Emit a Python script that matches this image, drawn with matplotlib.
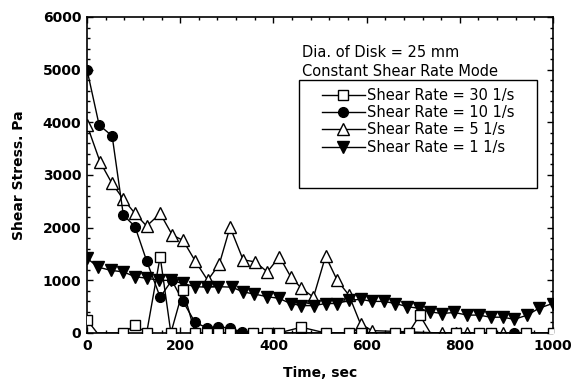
import matplotlib
matplotlib.use("Agg")
import matplotlib.pyplot as plt
from matplotlib.ticker import MultipleLocator
from matplotlib.patches import Rectangle

# ---- data ----
t30 = [0, 22, 78, 103, 128, 157, 180, 206, 232, 257, 282, 307, 357, 386, 411, 460,
       512, 562, 587, 662, 690, 714, 737, 791, 841, 866, 942, 999]
v30 = [250, 0, 0, 150, 0, 1450, 0, 820, 0, 0, 0, 0, 0, 0, 0, 110,
       0, 0, 0, 0, 0, 340, 0, 0, 0, 0, 0, 0]

t10 = [0, 26, 54, 78, 103, 128, 157, 182, 206, 232, 257, 282, 307, 333, 357, 386,
       411, 460, 512, 562, 662, 690, 841, 866, 917, 942, 999]
v10 = [5000, 3950, 3740, 2240, 2020, 1370, 680, 1000, 600, 200, 100, 120, 90, 20, 0, 0,
       0, 0, 0, 0, 0, 0, 0, 0, 0, 0, 0]

t5 = [0, 28, 53, 78, 103, 128, 157, 183, 206, 232, 259, 284, 307, 335, 361, 387,
      413, 437, 460, 486, 512, 537, 562, 587, 612, 762, 791, 816, 892]
v5 = [3950, 3250, 2850, 2540, 2270, 2030, 2270, 1860, 1760, 1370, 1000, 1310, 2010, 1390, 1350, 1160,
      1450, 1070, 850, 680, 1460, 1000, 720, 170, 45, 0, 0, 0, 0]

t1 = [0, 24, 51, 78, 103, 128, 155, 180, 206, 232, 257, 282, 311, 335, 359, 386,
      411, 437, 460, 487, 512, 537, 562, 587, 612, 637, 662, 687, 712, 737,
      762, 788, 816, 841, 866, 892, 917, 945, 970, 999]
v1 = [1420, 1250, 1190, 1160, 1070, 1040, 1000, 1000, 940, 880, 870, 880, 870, 780, 740, 690,
      660, 560, 520, 520, 560, 560, 620, 640, 600, 600, 560, 500, 470, 400,
      370, 390, 340, 340, 300, 300, 260, 340, 470, 560]

labels = ["Shear Rate = 30 1/s", "Shear Rate = 10 1/s",
          "Shear Rate = 5 1/s", "Shear Rate = 1 1/s"]
note1 = "Dia. of Disk = 25 mm"
note2 = "Constant Shear Rate Mode"

plt.rcParams['font.family'] = ['DejaVu Sans']

fig = plt.figure(figsize=(5.72, 3.85), dpi=100)
ax = fig.add_axes([87/572, 52/385, 466/572, 316/385])

lw = 1.0
ms = 7
common = dict(color='black', lw=lw, mec='black', mew=1.0)

hide30 = [i for i in range(len(t30)) if t30[i] not in (22, 737)]

l5, = ax.plot(t5, v5, marker='^', ms=ms + 1, mfc='white', zorder=2, **common)
l1, = ax.plot(t1, v1, marker='v', ms=ms + 1, mfc='black', zorder=3, **common)
l10, = ax.plot(t10, v10, marker='o', ms=ms, mfc='black', zorder=4, **common)
l30, = ax.plot(t30, v30, marker='s', ms=ms, mfc='white', zorder=5,
               markevery=hide30, **common)

ax.set_xlim(0, 1000)
ax.set_ylim(0, 6000)
ax.xaxis.set_major_locator(MultipleLocator(200))
ax.xaxis.set_minor_locator(MultipleLocator(40))
ax.yaxis.set_major_locator(MultipleLocator(1000))
ax.yaxis.set_minor_locator(MultipleLocator(200))
ax.tick_params(which='both', direction='in', top=True, right=True, width=1.0)
ax.tick_params(which='major', length=4, pad=4, labelsize=10)
ax.tick_params(which='minor', length=2)
for lab in ax.get_xticklabels() + ax.get_yticklabels():
    lab.set_fontweight('bold')
for s in ax.spines.values():
    s.set_linewidth(1.2)

ax.set_xlabel("Time, sec", fontsize=10, fontweight='bold', labelpad=10)
ax.set_ylabel("Shear Stress. Pa", fontsize=10, fontweight='bold', labelpad=12)

ax.text(0.461, 0.889, note1, transform=ax.transAxes, fontsize=10.5, va='center', ha='left')
ax.text(0.461, 0.826, note2, transform=ax.transAxes, fontsize=10.5, va='center', ha='left')

# legend frame
ax.add_patch(Rectangle((0.455, 0.459), 0.511, 0.342, transform=ax.transAxes,
                       fill=True, facecolor='white', edgecolor='black', lw=1.0, zorder=6))

leg = ax.legend([l30, l10, l5, l1], labels, loc='upper left',
                bbox_to_anchor=(0.504, 0.775), fontsize=10.5, numpoints=1,
                handlelength=2.95, handletextpad=0.15, labelspacing=0.15,
                borderpad=0, borderaxespad=0, frameon=False)
leg.set_zorder(7)

fig.savefig("out.png", dpi=100)
